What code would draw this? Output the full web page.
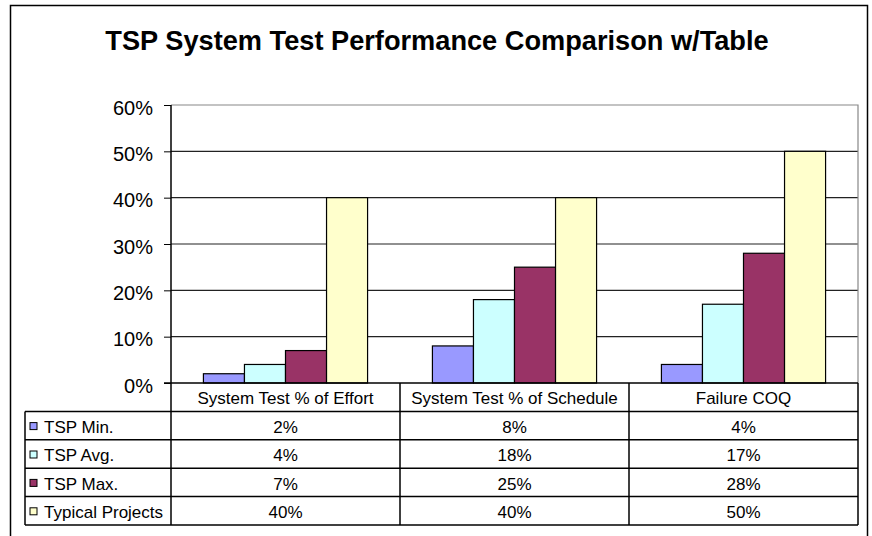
<!DOCTYPE html>
<html>
<head>
<meta charset="utf-8">
<script src="https://cdn.jsdelivr.net/npm/d3@7"></script>
<style>
  body { margin: 0; background: #fff; }
  text { font-family: Arial, 'Liberation Sans', sans-serif; fill: #000; }
</style>
</head>
<body>
<div id="chart"></div>
<script>
// data
var categories = ['System Test % of Effort', 'System Test % of Schedule', 'Failure COQ']
var seriesNames = ['TSP Min.', 'TSP Avg.', 'TSP Max.', 'Typical Projects']
var tspMin = [0.02, 0.08, 0.04]
var tspAvg = [0.04, 0.18, 0.17]
var tspMax = [0.07, 0.25, 0.28]
var typical = [0.40, 0.40, 0.50]
var yTicks = [0, 0.1, 0.2, 0.3, 0.4, 0.5, 0.6]
var colors = ['#9999ff', '#ccffff', '#993366', '#ffffcc']

var seriesValues = [tspMin, tspAvg, tspMax, typical]

var width = 872
var height = 536

// plot box
var plot = { left: 171, right: 858, top: 105, bottom: 383 }
var tableLeft = 25
var rowHeight = 28.4

var svg = d3
  .select('#chart')
  .append('svg')
  .attr('width', width)
  .attr('height', height)

// outer chart border
svg
  .append('rect')
  .attr('x', 10.5)
  .attr('y', 5.5)
  .attr('width', 857)
  .attr('height', 540)
  .attr('fill', 'none')
  .attr('stroke', '#000')
  .attr('stroke-width', 1.5)

svg
  .append('text')
  .text('TSP System Test Performance Comparison w/Table')
  .attr('x', 437)
  .attr('y', 50)
  .attr('text-anchor', 'middle')
  .attr('font-size', 27.2)
  .attr('font-weight', 'bold')

var yPositionScale = d3
  .scaleLinear()
  .domain([0, 0.6])
  .range([plot.bottom, plot.top])

var xPositionScale = d3
  .scaleBand()
  .domain(categories)
  .range([plot.left, plot.right])

var xSubScale = d3
  .scaleBand()
  .domain(seriesNames)
  .range([0, xPositionScale.bandwidth()])
  .paddingInner(0)
  .paddingOuter(0.79)

// gridlines + y axis
var yAxis = d3
  .axisLeft(yPositionScale)
  .tickValues(yTicks)
  .tickSize(7)
  .tickFormat(d3.format('.0%'))

var yAxisG = svg
  .append('g')
  .attr('class', 'axis y-axis')
  .attr('transform', `translate(${plot.left}, 0)`)
  .call(yAxis)

yAxisG.select('.domain').remove()
yAxisG
  .selectAll('.tick line')
  .attr('stroke', '#000')
yAxisG
  .selectAll('.tick text')
  .attr('font-size', 20)
  .attr('x', -18)
  .attr('dy', '0.45em')
  .attr('fill', '#000')

svg
  .append('g')
  .selectAll('line')
  .data(yTicks.filter(d => d > 0 && d < 0.6))
  .enter()
  .append('line')
  .attr('x1', plot.left)
  .attr('x2', plot.right)
  .attr('y1', d => yPositionScale(d))
  .attr('y2', d => yPositionScale(d))
  .attr('stroke', '#222')
  .attr('stroke-width', 1.2)

// plot area border (top / right gray)
svg
  .append('path')
  .attr('d', `M${plot.left},${plot.top}H${plot.right}V${plot.bottom}`)
  .attr('fill', 'none')
  .attr('stroke', '#888')
  .attr('stroke-width', 1.2)

// bars
var groups = svg
  .append('g')
  .selectAll('g')
  .data(categories)
  .enter()
  .append('g')
  .attr('transform', d => `translate(${xPositionScale(d)}, 0)`)

groups
  .selectAll('rect')
  .data((d, i) => seriesNames.map((name, j) => ({ name: name, value: seriesValues[j][i], color: colors[j] })))
  .enter()
  .append('rect')
  .attr('x', d => xSubScale(d.name))
  .attr('y', d => yPositionScale(d.value))
  .attr('width', xSubScale.bandwidth())
  .attr('height', d => plot.bottom - yPositionScale(d.value))
  .attr('fill', d => d.color)
  .attr('stroke', '#000')
  .attr('stroke-width', 1.2)

// data table
var table = svg.append('g').attr('class', 'data-table')
var tableBottom = plot.bottom + rowHeight * 5

// horizontal lines
table
  .append('line')
  .attr('x1', plot.left - 7)
  .attr('x2', plot.right)
  .attr('y1', plot.bottom)
  .attr('y2', plot.bottom)
  .attr('stroke', '#000')
  .attr('stroke-width', 1.5)

table
  .selectAll('.hline')
  .data(d3.range(1, 6))
  .enter()
  .append('line')
  .attr('class', 'hline')
  .attr('x1', tableLeft)
  .attr('x2', plot.right)
  .attr('y1', d => plot.bottom + d * rowHeight)
  .attr('y2', d => plot.bottom + d * rowHeight)
  .attr('stroke', '#000')
  .attr('stroke-width', 1.5)

// vertical lines
table
  .append('line')
  .attr('x1', tableLeft)
  .attr('x2', tableLeft)
  .attr('y1', plot.bottom + rowHeight)
  .attr('y2', tableBottom)
  .attr('stroke', '#000')
  .attr('stroke-width', 1.5)

table
  .selectAll('.vline')
  .data(categories.map(d => xPositionScale(d)).concat([plot.right]))
  .enter()
  .append('line')
  .attr('class', 'vline')
  .attr('x1', d => d)
  .attr('x2', d => d)
  .attr('y1', (d, i) => (i === 0 ? plot.top : plot.bottom))
  .attr('y2', tableBottom)
  .attr('stroke', '#000')
  .attr('stroke-width', 1.5)

// category header
table
  .selectAll('.cat-label')
  .data(categories)
  .enter()
  .append('text')
  .attr('class', 'cat-label')
  .text(d => d)
  .attr('x', d => xPositionScale(d) + xPositionScale.bandwidth() / 2)
  .attr('y', plot.bottom + rowHeight / 2)
  .attr('dy', '0.4em')
  .attr('text-anchor', 'middle')
  .attr('font-size', 17)

// series rows
var rows = table
  .selectAll('.row')
  .data(seriesNames)
  .enter()
  .append('g')
  .attr('class', 'row')
  .attr('transform', (d, i) => `translate(0, ${plot.bottom + (i + 1) * rowHeight})`)

rows
  .append('rect')
  .attr('x', 30)
  .attr('y', rowHeight / 2 - 3)
  .attr('width', 7)
  .attr('height', 7)
  .attr('fill', (d, i) => colors[i])
  .attr('stroke', '#000')
  .attr('stroke-width', 1)

rows
  .append('text')
  .text(d => d)
  .attr('x', 44)
  .attr('y', rowHeight / 2)
  .attr('dy', '0.42em')
  .attr('font-size', 17)

rows
  .selectAll('.value')
  .data((d, i) => seriesValues[i])
  .enter()
  .append('text')
  .attr('class', 'value')
  .text(d => d3.format('.0%')(d))
  .attr('x', (d, i) => xPositionScale(categories[i]) + xPositionScale.bandwidth() / 2)
  .attr('y', rowHeight / 2)
  .attr('dy', '0.42em')
  .attr('text-anchor', 'middle')
  .attr('font-size', 17)
</script>
</body>
</html>
